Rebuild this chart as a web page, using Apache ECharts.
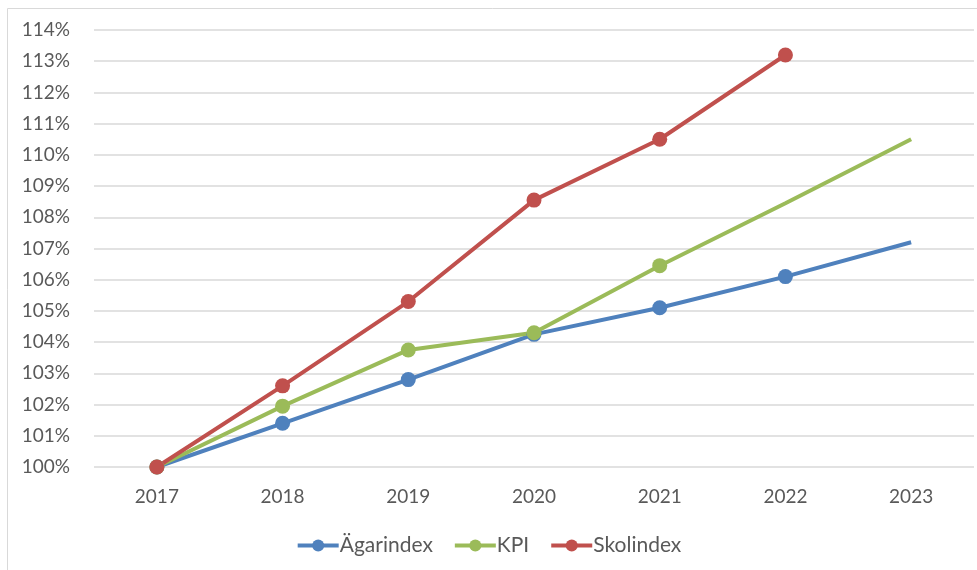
<!DOCTYPE html>
<html><head><meta charset="utf-8">
<script src="https://cdn.jsdelivr.net/npm/echarts@6/dist/echarts.min.js"></script>
<style>html,body{margin:0;padding:0;background:#fff}#c{width:977px;height:570px}</style>
</head><body><div id="c"></div>
<script>
const years = ['2017','2018','2019','2020','2021','2022','2023'];
const agarindex = [100, 101.4, 102.8, 104.25, 105.1, 106.1, 107.2];
const kpi = [100, 101.95, 103.75, 104.3, 106.45, 108.45, 110.5];
const skolindex = [100, 102.6, 105.3, 108.55, 110.5, 113.2];
const agarMarkers = [true, true, true, true, true, true, false];
const kpiMarkers = [true, true, true, true, true, false, false];
const skolMarkers = [true, true, true, true, true, true];

function items(vals, marks) {
  return vals.map((v, i) => marks[i] ? v : { value: v, symbol: 'none' });
}
const font = 'Lato, "Open Sans", sans-serif';
const chart = echarts.init(document.getElementById('c'));
function ser(name, color, vals, marks) {
  return {
    name, type: 'line', data: items(vals, marks), symbol: 'circle', symbolSize: 15,
    lineStyle: { color, width: 4 }, itemStyle: { color }, z: 3
  };
}
chart.setOption({
  animation: false,
  graphic: [{ type: 'rect', shape: { x: 7.5, y: 8.5, width: 1000, height: 600 }, style: { fill: 'none', stroke: '#d9d9d9', lineWidth: 1 }, silent: true }],
  grid: { left: 94, right: 3, top: 30, bottom: 103 },
  legend: {
    top: 530, left: 'center', itemWidth: 41, itemHeight: 15, itemGap: 20,
    lineStyle: { width: 4 },
    textStyle: { fontFamily: font, fontSize: 21, color: '#595959', padding: [0, 0, 0, -4] },
    data: ['Ägarindex', 'KPI', 'Skolindex']
  },
  xAxis: {
    type: 'category', data: years, boundaryGap: true,
    axisLine: { show: false }, axisTick: { show: false },
    axisLabel: { fontFamily: font, fontSize: 19, color: '#595959', margin: 20 }
  },
  yAxis: {
    type: 'value', min: 100, max: 114, interval: 1,
    axisLine: { show: false }, axisTick: { show: false },
    splitLine: { lineStyle: { color: '#d9d9d9', width: 1.5 } },
    axisLabel: { fontFamily: font, fontSize: 19, color: '#595959', margin: 24, formatter: v => v + '%' }
  },
  series: [
    ser('Ägarindex', '#4F81BD', agarindex, agarMarkers),
    ser('KPI', '#9BBB59', kpi, kpiMarkers),
    ser('Skolindex', '#C0504D', skolindex, skolMarkers)
  ]
});
</script></body></html>
